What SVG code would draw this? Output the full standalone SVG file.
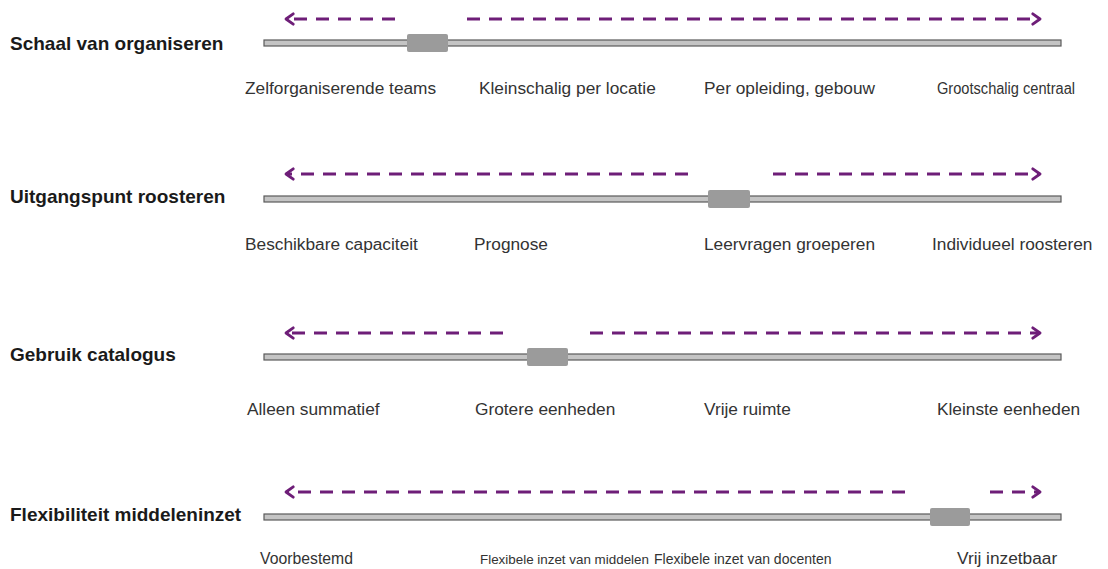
<svg xmlns="http://www.w3.org/2000/svg" width="1108" height="569" viewBox="0 0 1108 569">
  <defs>
    <marker id="chev" viewBox="0 0 11 14" refX="9" refY="7" markerWidth="11" markerHeight="14" markerUnits="userSpaceOnUse" orient="auto-start-reverse">
      <path d="M1.8,1.8 L9,7 L1.8,12.2" fill="none" stroke="#6e1e78" stroke-width="2.8" stroke-linecap="round" stroke-linejoin="round"/>
    </marker>
  </defs>
  <style>
    .title { font-family: "Liberation Sans", Arial, sans-serif; font-weight: bold; font-size: 19px; fill: #1a1a1a; }
    .lbl { font-family: "Liberation Sans", Arial, sans-serif; font-size: 17.3px; fill: #333; }
    .bar { fill: #c4c4c4; stroke: #5a5a5a; stroke-width: 1.2; }
    .knob { fill: #9b9b9b; }
    .dash { stroke: #6e1e78; stroke-width: 3; stroke-dasharray: 13 9; fill: none; }
  </style>
  <rect width="1108" height="569" fill="#ffffff"/>

  <!-- Scale 1: Schaal van organiseren -->
  <g id="scale-organiseren">
    <text class="title" x="10" y="50">Schaal van organiseren</text>
    <rect class="bar" x="264" y="40" width="797" height="6"/>
    <rect class="knob" x="407" y="34" width="41" height="18" rx="2"/>
    <text class="lbl" x="245" y="94">Zelforganiserende teams</text>
    <text class="lbl" x="479" y="94">Kleinschalig per locatie</text>
    <text class="lbl" x="704" y="94">Per opleiding, gebouw</text>
    <text class="lbl" x="937" y="94" style="font-size:16px" textLength="138" lengthAdjust="spacingAndGlyphs">Grootschalig centraal</text>
  </g>

  <!-- Scale 2: Uitgangspunt roosteren -->
  <g id="scale-roosteren">
    <text class="title" x="10" y="203">Uitgangspunt roosteren</text>
    <rect class="bar" x="264" y="196" width="797" height="6"/>
    <rect class="knob" x="708" y="190" width="42" height="18" rx="2"/>
    <text class="lbl" x="245" y="250">Beschikbare capaciteit</text>
    <text class="lbl" x="474" y="250">Prognose</text>
    <text class="lbl" x="704" y="250">Leervragen groeperen</text>
    <text class="lbl" x="932" y="250">Individueel roosteren</text>
  </g>

  <!-- Scale 3: Gebruik catalogus -->
  <g id="scale-catalogus">
    <text class="title" x="10" y="361">Gebruik catalogus</text>
    <rect class="bar" x="264" y="354" width="797" height="6"/>
    <rect class="knob" x="527" y="348" width="41" height="18" rx="2"/>
    <text class="lbl" x="247" y="415">Alleen summatief</text>
    <text class="lbl" x="475" y="415">Grotere eenheden</text>
    <text class="lbl" x="704" y="415">Vrije ruimte</text>
    <text class="lbl" x="937" y="415">Kleinste eenheden</text>
  </g>

  <!-- Scale 4: Flexibiliteit middeleninzet -->
  <g id="scale-middeleninzet">
    <text class="title" x="10" y="521">Flexibiliteit middeleninzet</text>
    <rect class="bar" x="264" y="514" width="797" height="6"/>
    <rect class="knob" x="930" y="508" width="40" height="18" rx="2"/>
    <text class="lbl" x="260" y="564" style="font-size:16.5px" textLength="93" lengthAdjust="spacingAndGlyphs">Voorbestemd</text>
    <text class="lbl" x="480" y="564" style="font-size:13.4px">Flexibele inzet van middelen</text>
    <text class="lbl" x="654" y="564" style="font-size:14px">Flexibele inzet van docenten</text>
    <text class="lbl" x="957" y="564">Vrij inzetbaar</text>
  </g>

  <!-- Direction arrows above each scale -->
  <g id="connectors">
    <path class="dash" d="M395,19 L286,19" marker-end="url(#chev)"/>
    <path class="dash" d="M467,19 L1040,19" marker-end="url(#chev)"/>
    <path class="dash" d="M688,174 L286,174" marker-end="url(#chev)"/>
    <path class="dash" d="M773,174 L1040,174" marker-end="url(#chev)"/>
    <path class="dash" d="M503,333 L286,333" marker-end="url(#chev)"/>
    <path class="dash" d="M590,333 L1040,333" marker-end="url(#chev)"/>
    <path class="dash" d="M905,492 L286,492" marker-end="url(#chev)"/>
    <path class="dash" d="M990,492 L1040,492" marker-end="url(#chev)"/>
  </g>
</svg>
